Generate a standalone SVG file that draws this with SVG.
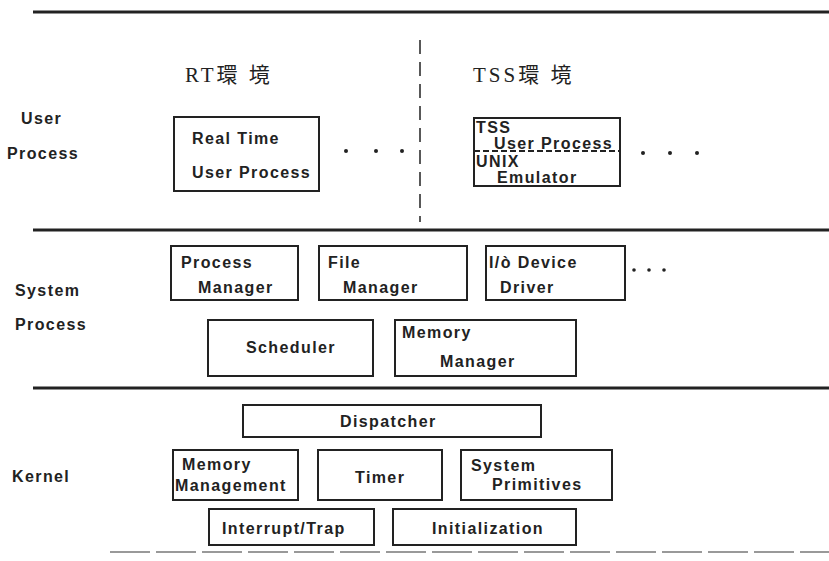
<svg xmlns="http://www.w3.org/2000/svg" width="829" height="561" viewBox="0 0 829 561">
<style>
.t{font-family:"Liberation Sans",Arial,sans-serif;font-size:16px;font-weight:bold;fill:#222;letter-spacing:1.4px}
.h{font-family:"Liberation Serif","Noto Sans CJK JP",serif;font-size:21px;fill:#222;letter-spacing:3px}
.b{fill:#fff;stroke:#222;stroke-width:2}
.sep{stroke:#222;stroke-width:3}
.dot{fill:#222}
</style>
<rect width="829" height="561" fill="#fff"/>
<g id="layers">
<line class="sep" x1="33" y1="12" x2="829" y2="12"/>
<line class="sep" x1="33" y1="230" x2="829" y2="230"/>
<line class="sep" x1="33" y1="388" x2="829" y2="388"/>
<line x1="110" y1="552" x2="829" y2="552" stroke="#999" stroke-width="2" stroke-dasharray="40 6"/>
<line x1="420" y1="40" x2="420" y2="222" stroke="#222" stroke-width="1.5" stroke-dasharray="14 8"/>
</g>
<g id="labels">
<text class="h" x="185" y="82">RT環 境</text>
<text class="h" x="473" y="82">TSS環 境</text>
<text class="t" x="21" y="124">User</text>
<text class="t" x="7" y="159">Process</text>
<text class="t" x="15" y="296">System</text>
<text class="t" x="15" y="330">Process</text>
<text class="t" x="12" y="482">Kernel</text>
</g>
<g id="rt-user-process">
<rect class="b" x="174" y="117" width="145" height="74"/>
<text class="t" x="192" y="144">Real Time</text>
<text class="t" x="192" y="178">User Process</text>
</g>
<g id="dots1"><circle class="dot" cx="346" cy="151" r="2"/><circle class="dot" cx="376" cy="151" r="2"/><circle class="dot" cx="402" cy="151" r="2"/></g>
<g id="tss-user-process">
<rect class="b" x="474" y="118" width="146" height="68"/>
<line x1="474" y1="151" x2="620" y2="151" stroke="#222" stroke-width="2" stroke-dasharray="6 3"/>
<text class="t" x="476" y="133">TSS</text>
<text class="t" x="494" y="149">User Process</text>
<text class="t" x="476" y="167">UNIX</text>
<text class="t" x="497" y="183">Emulator</text>
</g>
<g id="dots2"><circle class="dot" cx="643" cy="153" r="2"/><circle class="dot" cx="670" cy="153" r="2"/><circle class="dot" cx="697" cy="153" r="2"/></g>
<g id="process-manager">
<rect class="b" x="171" y="246" width="127" height="54"/>
<text class="t" x="181" y="268">Process</text>
<text class="t" x="198" y="293">Manager</text>
</g>
<g id="file-manager">
<rect class="b" x="319" y="246" width="148" height="54"/>
<text class="t" x="328" y="268">File</text>
<text class="t" x="343" y="293">Manager</text>
</g>
<g id="io-device-driver">
<rect class="b" x="486" y="246" width="139" height="54"/>
<text class="t" x="489" y="268">I/ò Device</text>
<text class="t" x="500" y="293">Driver</text>
</g>
<g id="dots3"><circle class="dot" cx="634" cy="270" r="1.8"/><circle class="dot" cx="649" cy="270" r="1.8"/><circle class="dot" cx="664" cy="270" r="1.8"/></g>
<g id="scheduler">
<rect class="b" x="208" y="320" width="165" height="56"/>
<text class="t" x="246" y="353">Scheduler</text>
</g>
<g id="memory-manager">
<rect class="b" x="395" y="320" width="181" height="56"/>
<text class="t" x="402" y="338">Memory</text>
<text class="t" x="440" y="367">Manager</text>
</g>
<g id="dispatcher">
<rect class="b" x="243" y="405" width="298" height="32"/>
<text class="t" x="340" y="427">Dispatcher</text>
</g>
<g id="memory-management">
<rect class="b" x="173" y="450" width="125" height="50"/>
<text class="t" x="182" y="470">Memory</text>
<text class="t" x="175" y="491">Management</text>
</g>
<g id="timer">
<rect class="b" x="318" y="450" width="124" height="50"/>
<text class="t" x="355" y="483">Timer</text>
</g>
<g id="system-primitives">
<rect class="b" x="461" y="450" width="151" height="50"/>
<text class="t" x="471" y="471">System</text>
<text class="t" x="492" y="490">Primitives</text>
</g>
<g id="interrupt-trap">
<rect class="b" x="209" y="509" width="165" height="36"/>
<text class="t" x="222" y="534">Interrupt/Trap</text>
</g>
<g id="initialization">
<rect class="b" x="393" y="509" width="183" height="36"/>
<text class="t" x="432" y="534">Initialization</text>
</g>
<g id="connectors"></g>
</svg>
